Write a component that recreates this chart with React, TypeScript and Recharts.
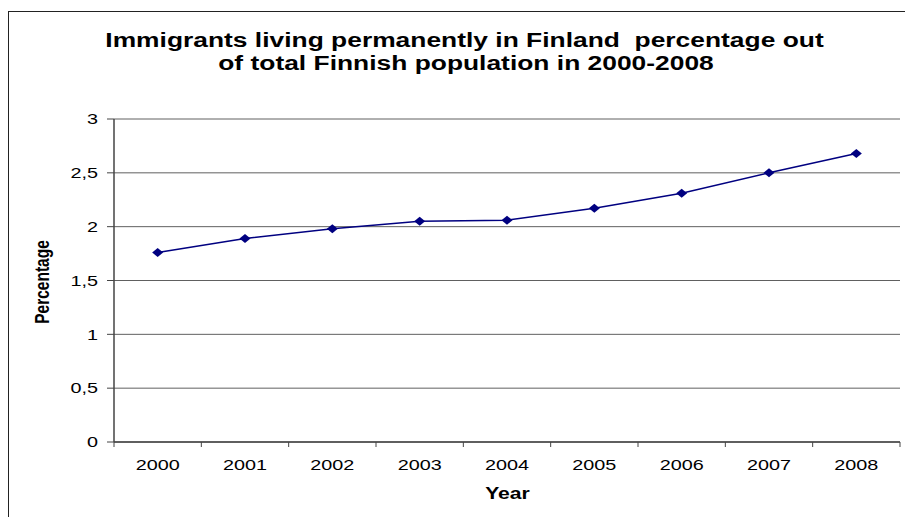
import { ComposedChart, Line, XAxis, YAxis, CartesianGrid, Label } from 'recharts';

const years = ['2000', '2001', '2002', '2003', '2004', '2005', '2006', '2007', '2008'];
const shares = [1.76, 1.89, 1.98, 2.05, 2.06, 2.17, 2.31, 2.5, 2.68];
const yTicks = [0, 0.5, 1, 1.5, 2, 2.5, 3];
const titleLines = [
  'Immigrants living permanently in Finland\u00a0 percentage out',
  'of total Finnish population in 2000-2008',
];

const W = 905;
const H = 517;
const PLOT_LEFT = 114;
const PLOT_RIGHT = 900;
const BAND = (PLOT_RIGHT - PLOT_LEFT) / years.length;
const STRETCH = 1.32;
const FONT = '"Liberation Sans", Arial, sans-serif';

const data = years.map((year, i) => ({ year, value: shares[i] }));

function YearTick({ x, y, payload, index }: any) {
  const left = x - BAND / 2;
  return (
    <g>
      <line x1={left} x2={left} y1={y} y2={y + 5} stroke="#444" />
      {index === years.length - 1 && (
        <line x1={x + BAND / 2} x2={x + BAND / 2} y1={y} y2={y + 5} stroke="#444" />
      )}
      <text
        transform={`translate(${x} ${y + 27.5}) scale(${STRETCH} 1)`}
        textAnchor="middle"
        fontFamily={FONT}
        fontSize={15}
        fill="#000"
      >
        {payload.value}
      </text>
    </g>
  );
}

function ValueTick({ x, y, payload }: any) {
  return (
    <text
      transform={`translate(${x} ${y + 5.3}) scale(${STRETCH} 1)`}
      textAnchor="end"
      fontFamily={FONT}
      fontSize={15}
      fill="#000"
    >
      {String(payload.value).replace('.', ',')}
    </text>
  );
}

// diamond marker, a little wider than tall
function Diamond({ cx, cy }: any) {
  if (cx == null || cy == null) return null;
  return (
    <polygon
      points={`${cx},${cy - 4.5} ${cx + 5.5},${cy} ${cx},${cy + 4.5} ${cx - 5.5},${cy}`}
      fill="#000080"
    />
  );
}

export default function App() {
  return (
    <div
      style={{
        position: 'absolute',
        left: 0,
        top: 0,
        width: W,
        height: H,
        overflow: 'hidden',
        background: '#fff',
      }}
    >
      <div
        style={{
          position: 'absolute',
          left: 8,
          top: 11,
          width: 1200,
          height: 800,
          borderLeft: '1.5px solid #222',
          borderTop: '1.5px solid #222',
        }}
      />
      <svg width={W} height={H} style={{ position: 'absolute', left: 0, top: 0 }}>
        {titleLines.map((line, i) => (
          <text
            key={i}
            transform={`translate(${i === 0 ? 464.5 : 466} ${47 + i * 23}) scale(${STRETCH} 1)`}
            textAnchor="middle"
            fontFamily={FONT}
            fontWeight="bold"
            fontSize={20}
            fill="#000"
          >
            {line}
          </text>
        ))}
      </svg>
      <div style={{ position: 'absolute', left: 0, top: 0 }}>
        <ComposedChart
          width={W}
          height={H}
          data={data}
          margin={{ top: 119, right: W - PLOT_RIGHT, bottom: 0, left: 14 }}
        >
          <CartesianGrid vertical={false} stroke="#606060" />
          <XAxis
            dataKey="year"
            scale="band"
            height={75}
            tickLine={false}
            tickSize={0}
            tickMargin={0}
            axisLine={{ stroke: '#444', strokeWidth: 1.5 }}
            tick={<YearTick />}
            interval={0}
          >
            <Label
              content={() => (
                <text
                  transform={`translate(507.5 499.3) scale(${STRETCH} 1)`}
                  textAnchor="middle"
                  fontFamily={FONT}
                  fontWeight="bold"
                  fontSize={16}
                  fill="#000"
                >
                  Year
                </text>
              )}
            />
          </XAxis>
          <YAxis
            width={PLOT_LEFT - 14}
            domain={[0, 3]}
            ticks={yTicks}
            interval={0}
            tickSize={7}
            tickMargin={9}
            tickLine={{ stroke: '#444' }}
            axisLine={{ stroke: '#444', strokeWidth: 1.5 }}
            tick={<ValueTick />}
          >
            <Label
              content={() => (
                <text
                  transform={`translate(49 282) scale(${STRETCH} 1) rotate(-90)`}
                  textAnchor="middle"
                  fontFamily={FONT}
                  fontWeight="bold"
                  fontSize={15.5}
                  fill="#000"
                >
                  Percentage
                </text>
              )}
            />
          </YAxis>
          <YAxis
            yAxisId="frame"
            orientation="right"
            width={0}
            domain={[0, 3]}
            tick={false}
            tickLine={false}
            axisLine={{ stroke: '#999' }}
          />
          <Line
            dataKey="value"
            stroke="#000080"
            strokeWidth={1.5}
            dot={<Diamond />}
            activeDot={false}
            isAnimationActive={false}
          />
        </ComposedChart>
      </div>
    </div>
  );
}
